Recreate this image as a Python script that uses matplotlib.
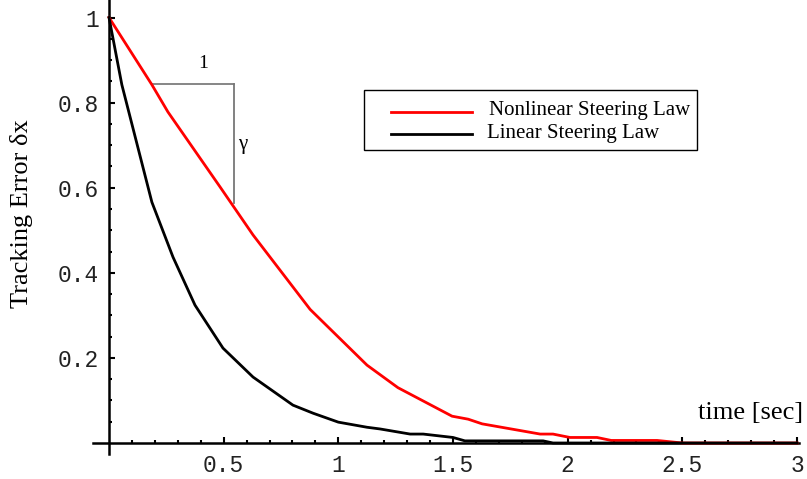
import matplotlib
matplotlib.use("Agg")
import matplotlib.pyplot as plt
from matplotlib.patches import Rectangle
import numpy as np

# ---- data ----
nonlinear_t = [0, 0.187, 0.257, 0.484, 0.628, 0.877, 1.125, 1.26, 1.496, 1.566, 1.627,
               1.88, 1.936, 2.01, 2.128, 2.19, 2.39, 2.5, 3.0]
nonlinear_err = [1.0, 0.842, 0.778, 0.602, 0.489, 0.314, 0.183, 0.130, 0.063, 0.056, 0.045,
                 0.021, 0.021, 0.013, 0.013, 0.006, 0.006, 0.0, 0.0]

linear_t = [0, 0.056, 0.187, 0.279, 0.375, 0.497, 0.628, 0.802, 0.89, 1.0, 1.125, 1.182,
            1.313, 1.37, 1.50, 1.552, 1.893, 1.936, 3.0]
linear_err = [1.0, 0.842, 0.566, 0.437, 0.324, 0.223, 0.155, 0.089, 0.070, 0.049, 0.037, 0.033,
              0.021, 0.021, 0.013, 0.005, 0.005, 0.0, 0.0]

x_major = [0.5, 1, 1.5, 2, 2.5, 3]
x_labels = ["0.5", "1", "1.5", "2", "2.5", "3"]
y_major = [0.2, 0.4, 0.6, 0.8, 1.0]
y_labels = ["0.2", "0.4", "0.6", "0.8", "1"]

series_names = ["Nonlinear Steering Law", "Linear Steering Law"]

W, H = 807, 479
fig = plt.figure(figsize=(W / 100, H / 100), dpi=100)
ax = fig.add_axes([0, 0, 1, 1])

# pixel mapping: x=0 -> px 109, x=3 -> px 797 ; y=0 -> py 443, y=1 -> py 17.5
sx = (797 - 109) / 3.0
sy = (443 - 17.5)
ax.set_xlim(-109 / sx, (W - 109) / sx)
ax.set_ylim(-(H - 443) / sy, 443 / sy)

def fx(px):
    return px / W

def fy(py):
    return 1 - py / H

ax.plot(nonlinear_t, nonlinear_err, color="#ff0000", lw=2.0, solid_joinstyle="miter", zorder=3)
ax.plot(linear_t, linear_err, color="black", lw=2.0, solid_joinstyle="miter", zorder=3)

# slope triangle
ax.plot([0.187, 0.545], [0.8437, 0.8437], color="#666666", lw=1.1, zorder=2)
ax.plot([0.545, 0.545], [0.8437, 0.564], color="#777777", lw=1.3, zorder=2)
ax.text(fx(203), fy(63), "1", transform=fig.transFigure, ha="center", va="center",
        family="Liberation Serif", fontsize=14)
ax.text(fx(243), fy(145), "γ", transform=fig.transFigure, ha="center", va="center",
        family="Liberation Serif", fontsize=15)

# spines through the origin
for s in ["top", "right"]:
    ax.spines[s].set_visible(False)
ax.spines["left"].set_position(("data", 0))
ax.spines["bottom"].set_position(("data", 0))
ax.spines["left"].set_bounds(-0.026, 1.04)
ax.spines["bottom"].set_bounds(-0.07, 3.01)
ax.spines["left"].set_linewidth(1.8)
ax.spines["bottom"].set_linewidth(1.8)

ax.set_xticks(x_major)
ax.set_xticklabels(x_labels)
ax.set_xticks([round(0.1 * i, 2) for i in range(1, 30) if i % 5 != 0], minor=True)
ax.set_yticks(y_major)
ax.set_yticklabels(y_labels)
ax.set_yticks([round(0.05 * i, 2) for i in range(1, 20) if i % 4 != 0], minor=True)

ax.tick_params(which="major", direction="in", length=4.5, width=1.5, color="black")
ax.tick_params(which="minor", direction="in", length=2.3, width=1.5, color="black")
ax.tick_params(axis="x", which="major", pad=8)
ax.tick_params(axis="y", which="major", pad=7)
for lab in ax.get_xticklabels() + ax.get_yticklabels():
    lab.set_family("Liberation Mono")
    lab.set_fontsize(16.5)
    lab.set_color("#222222")

# axis labels
ax.text(fx(803), fy(419), "time [sec]", transform=fig.transFigure, ha="right",
        va="baseline", family="Liberation Serif", fontsize=19)
ax.text(fx(22), fy(214), "Tracking Error δx", transform=fig.transFigure, ha="center",
        va="center", rotation=90, family="Liberation Serif", fontsize=19)

# legend (drawn by hand to match the boxed layout)
fig.patches.append(Rectangle((fx(364), fy(150)), fx(697) - fx(364), fy(90) - fy(150),
                             transform=fig.transFigure, fill=False, ec="black", lw=1.0))
fig.add_artist(plt.Line2D([fx(391), fx(472)], [fy(112), fy(112)], transform=fig.transFigure,
                          color="#ff0000", lw=2.0))
fig.add_artist(plt.Line2D([fx(391), fx(472)], [fy(134), fy(134)], transform=fig.transFigure,
                          color="black", lw=2.0))
fig.text(fx(489), fy(115), series_names[0], ha="left", va="baseline",
         family="Liberation Serif", fontsize=15)
fig.text(fx(487), fy(138), series_names[1], ha="left", va="baseline",
         family="Liberation Serif", fontsize=15)

fig.savefig("out.png", dpi=100)
